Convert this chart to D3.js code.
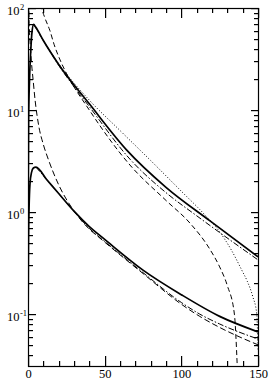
<!DOCTYPE html>
<html>
<head>
<meta charset="utf-8">
<script src="https://cdn.jsdelivr.net/npm/d3@7"></script>
<style>
  body { margin: 0; background: #fff; }
  svg { display: block; }
  text { font-family: "Liberation Serif", "Times New Roman", serif; fill: #000; }
</style>
</head>
<body>
<div class="chart"></div>
<script>
const width = 271;
const height = 383;
const margin = { top: 8, right: 13, bottom: 17, left: 28 };
const innerWidth = width - margin.left - margin.right;
const innerHeight = height - margin.top - margin.bottom;

// x ticks and y decades
const xMajorTicks = [0, 50, 100, 150];
const xMinorTicks = [10, 20, 30, 40, 60, 70, 80, 90, 110, 120, 130, 140];
const yDecades = [-1, 0, 1, 2];

// upper group of curves, [x, y]
const upperSolid = [[0.1, 1], [0.4, 8], [1, 20], [1.8, 38], [2.6, 58], [3.7, 69], [5, 65], [10, 48],
  [20, 28], [40, 11.5], [64.4, 4.05], [90, 1.75], [118.7, 0.82], [150, 0.365]];
const upperDotted = [[3.7, 69], [10, 48], [20, 28.5], [40, 12.5], [60, 6.3], [80, 3.2], [100, 1.6],
  [115, 0.95], [125, 0.64], [132.8, 0.42], [139.4, 0.27], [143, 0.21], [146.5, 0.15], [149.2, 0.1], [150, 0.045]];
const upperDashDot = [[3.7, 69], [10, 48], [20, 27.5], [40, 10.8], [66.5, 3.3], [90, 1.55], [110, 0.92],
  [125, 0.63], [150, 0.34]];
const upperDashed = [[7.4, 130], [8.9, 100], [11, 80], [14.3, 60], [17, 44], [20.9, 31], [25, 23], [40, 10],
  [66.5, 2.89], [90, 1.3], [105.6, 0.78], [118.7, 0.43], [125, 0.29], [130, 0.19], [134.6, 0.1], [136.5, 0.03]];

// lower group of curves
const lowerSolid = [[0.1, 0.12], [0.3, 0.45], [0.7, 1.1], [1.3, 1.9], [2.3, 2.45], [3.5, 2.7], [5.2, 2.76],
  [12, 2.1], [20, 1.52], [30, 1.02], [40, 0.72], [50, 0.54], [75, 0.27], [100, 0.155], [125, 0.095], [150, 0.067]];
const lowerDashDot = [[5.2, 2.76], [12, 2.1], [20, 1.52], [30, 1.02], [40, 0.69], [50, 0.515], [75, 0.255],
  [100, 0.13], [112, 0.1], [125, 0.08], [150, 0.057]];
const lowerDashed = [[0.3, 140], [0.6, 85], [1.3, 48], [2.2, 30], [3.3, 20], [4.6, 12.6], [7, 7], [10, 4.6],
  [13.2, 3.3], [20, 1.85], [29.5, 1.05], [40, 0.68], [46, 0.57], [75, 0.25], [100, 0.125], [112, 0.095],
  [125, 0.074], [150, 0.05]];

const svg = d3.select(".chart")
  .append("svg")
  .attr("width", width)
  .attr("height", height);

const x = d3.scaleLinear().domain([0, 150]).range([0, innerWidth]);
const y = d3.scaleLog().domain([0.031, 100]).range([innerHeight, 0]);

const g = svg.append("g")
  .attr("transform", `translate(${margin.left},${margin.top})`);

g.append("clipPath").attr("id", "plot-clip")
  .append("rect").attr("width", innerWidth).attr("height", innerHeight);

// curves
const curveLine = d3.line()
  .x(d => x(d[0]))
  .y(d => y(d[1]))
  .curve(d3.curveMonotoneX);

const series = [
  { data: upperDotted, dash: "1,2", w: 1 },
  { data: upperDashDot, dash: "6,2,1.5,2", w: 1 },
  { data: upperDashed, dash: "5,3", w: 1 },
  { data: lowerDashDot, dash: "6,2,1.5,2", w: 1 },
  { data: lowerDashed, dash: "6,3", w: 1 },
  { data: upperSolid, dash: null, w: 1.7 },
  { data: lowerSolid, dash: null, w: 1.7 }
];

g.append("g").attr("clip-path", "url(#plot-clip)")
  .selectAll("path")
  .data(series)
  .enter().append("path")
    .attr("d", d => curveLine(d.data))
    .attr("fill", "none")
    .attr("stroke", "#000")
    .attr("stroke-width", d => d.w)
    .attr("stroke-dasharray", d => d.dash);

// ticks, all pointing inward
const yMajor = yDecades.map(e => Math.pow(10, e));
const yMinor = [];
yDecades.forEach(e => {
  for (let k = 2; k <= 9; k++) {
    const v = k * Math.pow(10, e - 1);
    if (v >= 0.031 && v <= 100) yMinor.push(v);
  }
});

const xTicks = xMajorTicks.map(v => ({ v: v, len: 10 })).concat(xMinorTicks.map(v => ({ v: v, len: 5 })));
const yTicks = yMajor.map(v => ({ v: v, len: 8 })).concat(yMinor.map(v => ({ v: v, len: 5 })));

const tickG = g.append("g").attr("fill", "#000");

// bottom and top
tickG.selectAll("rect.xb")
  .data(xTicks)
  .enter().append("rect")
    .attr("class", "xb")
    .attr("x", d => Math.round(x(d.v)))
    .attr("y", d => innerHeight - d.len)
    .attr("width", 1.2)
    .attr("height", d => d.len);
tickG.selectAll("rect.xt")
  .data(xTicks)
  .enter().append("rect")
    .attr("class", "xt")
    .attr("x", d => Math.round(x(d.v)))
    .attr("y", 0)
    .attr("width", 1.2)
    .attr("height", d => d.len);
// left and right
tickG.selectAll("rect.yl")
  .data(yTicks)
  .enter().append("rect")
    .attr("class", "yl")
    .attr("x", 0)
    .attr("y", d => Math.round(y(d.v)))
    .attr("width", d => d.len)
    .attr("height", 1.2);
tickG.selectAll("rect.yr")
  .data(yTicks)
  .enter().append("rect")
    .attr("class", "yr")
    .attr("x", d => innerWidth - d.len + 1)
    .attr("y", d => Math.round(y(d.v)))
    .attr("width", d => d.len)
    .attr("height", 1.2);

// frame
g.append("rect")
  .attr("x", 0.5).attr("y", 0.5)
  .attr("width", innerWidth).attr("height", innerHeight)
  .attr("fill", "none")
  .attr("stroke", "#000")
  .attr("stroke-width", 1.2);

// x labels
g.append("g").selectAll("text")
  .data(xMajorTicks)
  .enter().append("text")
    .attr("x", d => x(d) + 0.5)
    .attr("y", innerHeight + 11.5)
    .attr("font-size", 12.5)
    .attr("text-anchor", "middle")
    .text(d => d);

// y labels 10^n
g.append("g").selectAll("text")
  .data(yDecades)
  .enter().append("text")
    .attr("x", -8.5)
    .attr("y", e => y(Math.pow(10, e)) + 7)
    .attr("font-size", 12.5)
    .attr("text-anchor", "end")
    .text("10");
g.append("g").selectAll("text")
  .data(yDecades)
  .enter().append("text")
    .attr("x", -8)
    .attr("y", e => y(Math.pow(10, e)) + 1.5)
    .attr("font-size", 8.5)
    .text(e => e < 0 ? "-" + Math.abs(e) : e);
</script>
</body>
</html>
